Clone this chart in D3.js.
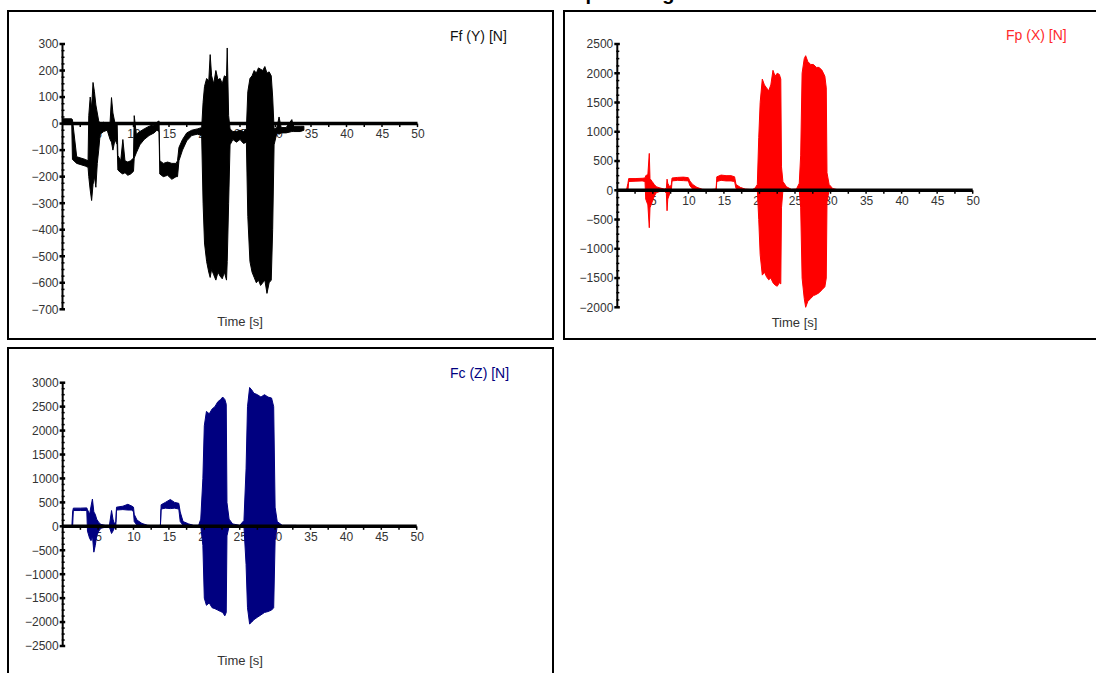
<!DOCTYPE html>
<html><head><meta charset="utf-8">
<script src="https://cdn.jsdelivr.net/npm/d3@7"></script>
<style>
body{margin:0;background:#fff;overflow:hidden}
svg{display:block}
text{font-family:Arial,"Liberation Sans",sans-serif}
</style>
</head><body>
<svg id="c" width="1096" height="673"></svg>
<script>
// ---- data (envelopes: time [s], low, high) ----
const titleText = "Señal de fuerzas de los cortes para diagrama de fuerzas";

const ffT  = [0,1.3,1.4,2.0,2.6,3.2,3.6,3.7,3.9,4.1,4.3,4.5,4.7,4.9,5.1,5.3,5.8,6.3,6.7,6.9,7.1,7.4,7.7,7.8,8.2,8.5,8.8,9.2,9.6,10.0,10.1,10.4,10.9,11.5,12.2,12.9,13.3,13.6,13.7,14.2,14.8,15.4,16.0,16.2,16.4,16.9,17.5,18.2,19.0,19.6,19.8,20.0,20.3,20.6,20.8,21.0,21.3,21.6,21.9,22.2,22.5,22.8,23.1,23.2,23.4,23.6,24.0,24.5,25.0,25.5,25.9,26.1,26.4,26.7,27.0,27.3,27.6,27.9,28.2,28.5,28.8,29.1,29.4,29.6,29.8,30.2,30.5,30.8,31.5,32.3,32.5,33.5,34.0];
const ffLo = [5,5,-135,-150,-155,-160,-165,-200,-250,-290,-230,-200,-240,-150,-100,-40,-30,-25,-60,-70,-100,-60,-80,-175,-185,-190,-185,-195,-190,-180,-130,-110,-80,-60,-45,-35,-25,-30,-190,-200,-195,-210,-200,-200,-140,-100,-65,-45,-40,-45,-300,-450,-520,-560,-580,-550,-570,-590,-560,-575,-585,-560,-590,-520,-300,-80,-60,-70,-60,-75,-70,-350,-520,-560,-580,-600,-590,-610,-600,-590,-640,-600,-590,-400,-80,-35,-40,-35,-35,-30,-30,-30,-25];
const ffHi = [18,18,15,-125,-130,-135,-140,30,100,60,155,120,70,40,10,0,5,0,5,98,40,0,0,-120,-140,-60,-140,-145,-140,-130,30,-40,-30,-20,-10,-5,5,10,-140,-150,-145,-150,-150,-140,-90,-60,-35,-25,-20,-15,80,140,170,160,260,180,150,200,165,170,150,180,175,285,30,-20,-30,-30,-25,-30,-20,120,170,180,200,190,210,205,200,215,190,195,180,100,-20,-15,25,-15,-15,15,-10,-10,-10];

const fpT  = [0,1.3,1.5,1.6,2.5,3.5,3.9,4.0,4.3,4.5,4.6,4.9,5.2,5.5,6.0,6.6,6.9,7.0,7.1,7.4,7.6,7.7,8.5,9.3,10.0,10.2,10.6,11.2,12.0,13.0,13.9,14.0,14.6,15.3,16.0,16.5,16.7,17.3,18.0,19.0,19.4,19.7,19.9,20.1,20.4,20.7,21.0,21.3,21.6,21.9,22.2,22.5,22.8,23.0,23.1,23.3,23.8,24.5,25.2,25.6,25.8,26.0,26.3,26.5,26.8,27.2,27.6,28.0,28.4,28.8,29.2,29.4,29.5,29.8,30.3,31.0,32.0,33.0];
const fpLo = [-10,-10,-10,150,155,160,150,-150,-250,-640,-300,-200,-100,-40,-20,-10,-50,-350,-150,-50,-20,160,170,165,160,80,20,0,-5,-10,-10,150,170,160,160,150,30,0,-5,-10,-10,10,-500,-1100,-1450,-1400,-1480,-1530,-1500,-1580,-1620,-1640,-1580,-1600,-300,0,-5,-10,-10,10,-300,-1500,-1850,-2000,-1900,-1850,-1800,-1780,-1750,-1700,-1650,-1500,-200,0,-5,-10,-10,-10];
const fpHi = [10,10,120,200,200,205,210,250,270,630,200,150,100,60,40,20,30,190,120,50,100,210,220,225,215,160,100,50,15,10,20,230,260,250,250,230,100,50,20,10,40,100,900,1500,1900,1800,1750,1700,1800,2050,1950,2000,1980,1900,400,150,60,15,20,120,600,2000,2250,2300,2200,2150,2150,2100,2100,2050,1950,1750,300,100,30,10,10,10];

const fcT  = [0,1.3,1.4,1.5,2.5,3.4,3.5,3.8,4.0,4.2,4.4,4.6,4.8,5.1,5.4,6.0,6.6,6.9,7.1,7.3,7.5,7.6,8.5,9.2,9.8,10.0,10.1,10.5,11.2,12.0,13.0,13.8,13.9,14.5,15.2,15.8,16.4,16.6,17.0,17.8,18.5,19.2,19.5,19.8,20.0,20.3,20.7,21.1,21.5,21.9,22.3,22.6,22.9,23.1,23.2,23.5,24.0,25.0,25.6,25.9,26.1,26.4,26.7,27.0,27.5,28.0,28.5,29.0,29.5,29.8,30.0,30.3,31.0,32.0,33.0];
const fcLo = [-10,-10,-10,330,330,330,-100,-250,-300,-200,-540,-400,-200,-100,-40,-20,-20,-150,-100,-30,-10,340,350,340,340,300,100,20,0,-5,-10,-10,360,380,370,380,360,100,20,0,-5,-10,0,-400,-1500,-1650,-1600,-1700,-1720,-1750,-1780,-1800,-1870,-1800,-200,0,-5,-10,0,-800,-1700,-2040,-2000,-1950,-1900,-1850,-1800,-1780,-1750,-1700,-300,0,-10,-10,-10];
const fcHi = [10,10,300,380,380,385,350,250,420,570,300,250,150,80,40,20,20,330,150,50,100,400,420,460,420,400,250,130,60,20,10,20,450,500,560,500,480,300,100,50,20,20,150,1000,2100,2400,2350,2450,2500,2600,2650,2700,2650,2550,500,150,50,20,120,1200,2500,2900,2850,2780,2750,2700,2750,2700,2680,2500,400,100,20,20,20];

const xTickLabels = [5,10,15,20,25,30,35,40,45,50];
const ffYTicks = [300,200,100,0,-100,-200,-300,-400,-500,-600,-700];
const fpYTicks = [2500,2000,1500,1000,500,0,-500,-1000,-1500,-2000];
const fcYTicks = [3000,2500,2000,1500,1000,500,0,-500,-1000,-1500,-2000,-2500];
const seriesNames = ["Ff (Y) [N]","Fp (X) [N]","Fc (Z) [N]"];
const xLabel = "Time [s]";

// ---- layout ----
const svg = d3.select("#c");
const panels = [
  {frame:[8,11,545,328], xr:[62.5,417.5], yr:[309.3,44], yd:[-700,300], ticks:ffYTicks, minor:25,
   t:ffT, lo:ffLo, hi:ffHi, color:"#000000", name:seriesNames[0], nameColor:"#111", nameX:450, nameY:40.5, timeX:240, timeY:326},
  {frame:[564,11,560,328], xr:[617.3,972.7], yr:[307.3,44], yd:[-2000,2500], ticks:fpYTicks, minor:125,
   t:fpT, lo:fpLo, hi:fpHi, color:"#ff0000", name:seriesNames[1], nameColor:"#ff2a2a", nameX:1006, nameY:40, timeX:794.5, timeY:326.5},
  {frame:[8,348,545,345], xr:[62.7,416.7], yr:[646,382.7], yd:[-2500,3000], ticks:fcYTicks, minor:125,
   t:fcT, lo:fcLo, hi:fcHi, color:"#000080", name:seriesNames[2], nameColor:"#000080", nameX:450, nameY:378, timeX:240, timeY:665}
];

// title (cut off at top in the reference)
svg.append("text").attr("x",560).attr("y",0).attr("text-anchor","middle")
  .attr("font-size",20).attr("font-weight","bold").attr("fill","#000").text(titleText);

panels.forEach(p => {
  const g = svg.append("g");
  g.append("rect").attr("x",p.frame[0]).attr("y",p.frame[1]).attr("width",p.frame[2]).attr("height",p.frame[3])
    .attr("fill","#fff").attr("stroke","#000").attr("stroke-width",2);

  const x = d3.scaleLinear().domain([0,50]).range(p.xr);
  const y = d3.scaleLinear().domain(p.yd).range(p.yr);
  const y0 = y(0);

  const xa = g.append("g").attr("transform",`translate(0,${y0})`)
    .call(d3.axisBottom(x).tickValues(xTickLabels).tickSize(0).tickPadding(6).tickFormat(d3.format("d")));
  xa.select(".domain").remove();
  xa.selectAll("text").attr("font-size",12).attr("fill","#333").attr("font-family","Arial, 'Liberation Sans', sans-serif");

  const ya = g.append("g").attr("transform",`translate(${p.xr[0]},0)`)
    .call(d3.axisLeft(y).tickValues(p.ticks).tickSize(0).tickPadding(4).tickFormat(d3.format("d")));
  ya.select(".domain").remove();
  ya.selectAll("text").attr("font-size",12).attr("fill","#333").attr("font-family","Arial, 'Liberation Sans', sans-serif");

  const data = p.t.map((t,i)=>({t, lo:p.lo[i], hi:p.hi[i]}));
  const area = d3.area().x(d=>x(d.t)).y0(d=>y(d.lo)).y1(d=>y(d.hi));
  g.append("path").datum(data).attr("d",area).attr("fill",p.color)
    .attr("stroke",p.color).attr("stroke-width",1).attr("stroke-linejoin","miter");

  g.append("line").attr("x1",x(0)).attr("x2",x(50)).attr("y1",y0).attr("y2",y0)
    .attr("stroke","#000").attr("stroke-width",3.5);
  g.append("line").attr("x1",p.xr[0]).attr("x2",p.xr[0]).attr("y1",y(p.yd[0])).attr("y2",y(p.yd[1]))
    .attr("stroke","#000").attr("stroke-width",2);

  const yMinor = d3.range(p.yd[0], p.yd[1]+1e-9, p.minor);
  g.selectAll(null).data(yMinor).join("line")
    .attr("x1",p.xr[0]-1).attr("x2",p.xr[0]+2).attr("y1",d=>y(d)).attr("y2",d=>y(d))
    .attr("stroke","#000").attr("stroke-width",1.5);
  g.selectAll(null).data(p.ticks).join("line")
    .attr("x1",p.xr[0]-3).attr("x2",p.xr[0]+2.5).attr("y1",d=>y(d)).attr("y2",d=>y(d))
    .attr("stroke","#000").attr("stroke-width",2.5);

  const xMinor = d3.range(2.5, 50.01, 2.5);
  g.selectAll(null).data(xMinor).join("line")
    .attr("x1",d=>x(d)).attr("x2",d=>x(d)).attr("y1",y0).attr("y2",y0+3.5)
    .attr("stroke","#000").attr("stroke-width",1.5);

  g.append("text").attr("x",p.nameX).attr("y",p.nameY).attr("font-size",14).attr("fill",p.nameColor).text(p.name);
  g.append("text").attr("x",p.timeX).attr("y",p.timeY).attr("text-anchor","middle").attr("font-size",13).attr("fill","#333").text(xLabel);
});
</script>
</body></html>
